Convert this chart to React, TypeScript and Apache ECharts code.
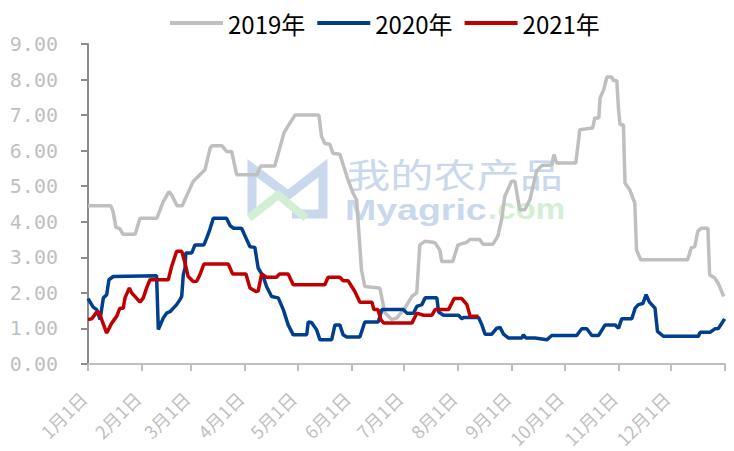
import React, { useEffect, useRef } from "react";
import * as echarts from "echarts";

const legendNames = ["2019年", "2020年", "2021年"];
const monthStartDays = [0, 31, 59, 90, 120, 151, 181, 212, 243, 273, 304, 334];
const tickDays = [0, 31, 59, 90, 120, 151, 181, 212, 243, 273, 304, 334, 365];
const monthLabels = ["1月1日", "2月1日", "3月1日", "4月1日", "5月1日", "6月1日", "7月1日", "8月1日", "9月1日", "10月1日", "11月1日", "12月1日"];

// [day of year, value]
const s2019: [number, number][] = [
  [0, 4.45], [13, 4.45], [14.3, 4.3], [16, 3.85], [18.3, 3.8], [20, 3.65], [27, 3.65], [29.8, 4.1], [39.5, 4.1],
  [43, 4.55], [46.4, 4.85], [48, 4.75], [51, 4.45], [54, 4.45], [60.2, 5.13], [64.1, 5.32], [67, 5.46], [70, 6.07],
  [71, 6.14], [76.7, 6.14], [79.4, 5.98], [82.3, 5.98], [85.2, 5.32], [96.8, 5.32], [99, 5.57], [107, 5.57],
  [112.3, 6.5], [115.1, 6.73], [118.6, 7.0], [132.3, 7.0], [133.8, 6.4], [135.7, 6.2], [138.6, 6.18], [140.3, 5.93],
  [144.3, 5.9], [149, 5.18], [151.8, 4.81], [153.9, 4.62], [156.7, 2.65], [158.6, 2.18], [167.2, 2.14], [170.1, 1.44],
  [174.1, 1.25], [177, 1.3], [181.6, 1.57], [185.6, 1.9], [188.4, 2.0], [190.1, 3.35], [193, 3.45], [198.7, 3.42],
  [201.6, 3.21], [202.7, 2.88], [209, 2.88], [212, 3.35], [217, 3.42], [218.8, 3.5], [224.5, 3.5], [226.2, 3.37],
  [232, 3.37], [234.8, 3.59], [237, 4.06], [238.8, 4.71], [242.7, 5.14], [244.6, 5.14], [247.4, 4.34], [250.3, 4.34],
  [253.2, 4.62], [257, 5.42], [260, 5.58], [265.7, 5.6], [267, 5.89], [268.5, 5.65], [279.5, 5.65], [281.8, 6.59],
  [289.2, 6.64], [290.4, 6.92], [292.7, 6.92], [293.4, 7.48], [295.5, 7.71], [297.3, 8.07], [300.1, 8.07],
  [301.1, 7.97], [303, 7.97], [304, 7.15], [304.9, 6.73], [306.8, 6.73], [307.7, 5.09], [310.4, 4.9], [313.3, 4.53],
  [314.3, 3.21], [316.7, 2.93], [343.6, 2.93], [345.6, 3.26], [347.7, 3.31], [349.4, 3.73], [351.3, 3.82],
  [355.2, 3.82], [356.2, 2.51], [359.1, 2.42], [361, 2.28], [364.3, 1.9],
];

const s2020: [number, number][] = [
  [0, 1.84], [3, 1.6], [5, 1.53], [6.9, 1.25], [8.8, 1.86], [10.7, 1.95], [12, 2.37], [14.5, 2.46], [39.3, 2.48],
  [40.3, 0.97], [43.1, 1.29], [45, 1.43], [47, 1.47], [48.9, 1.57], [50.8, 1.67], [52.7, 1.81], [53.7, 1.9],
  [54.6, 2.51], [55.6, 2.7], [56, 3.12], [59.4, 3.12], [61.3, 3.35], [66.4, 3.35], [68, 3.54], [69.8, 3.78],
  [71.8, 4.1], [79.4, 4.1], [81.3, 3.9], [83.2, 3.82], [88, 3.82], [90.9, 3.5], [92.8, 3.3], [95.6, 3.28],
  [97.5, 2.7], [100.4, 2.46], [102.3, 2.18], [105.2, 1.9], [109, 1.86], [111.9, 1.53], [114.7, 1.1], [117.6, 0.82],
  [125.3, 0.82], [126.2, 1.18], [128.1, 1.17], [131, 0.96], [132.9, 0.68], [139.6, 0.68], [141.5, 1.1],
  [144.3, 1.1], [146.2, 0.82], [148.2, 0.76], [155.8, 0.76], [158.6, 1.18], [166.3, 1.18], [168.4, 1.53],
  [180.8, 1.53], [182.7, 1.43], [186.5, 1.43], [188.4, 1.62], [191.3, 1.67], [193.2, 1.86], [199.9, 1.86],
  [200.9, 1.46], [203.7, 1.37], [212.3, 1.37], [214.2, 1.27], [215.2, 1.31], [223.8, 1.31], [225.7, 1.1],
  [227.5, 0.84], [231.4, 0.84], [234.2, 1.01], [236.1, 1.03], [238.1, 0.84], [241, 0.73], [248.6, 0.73],
  [249.5, 0.82], [251, 0.73], [256.2, 0.73], [262.9, 0.68], [265.7, 0.8], [280, 0.8], [282.9, 0.99], [285.8, 0.99],
  [288.7, 0.8], [292.5, 0.8], [296.3, 1.1], [302, 1.1], [304, 1.01], [305.8, 1.27], [311.6, 1.27], [313.5, 1.57],
  [315.4, 1.67], [317.9, 1.7], [319.8, 1.95], [321.7, 1.74], [324.9, 1.57], [326.3, 0.92], [329.7, 0.78],
  [349.8, 0.78], [350.7, 0.89], [356.4, 0.89], [359.2, 0.99], [361.2, 1.0], [364.8, 1.27],
];

const s2021: [number, number][] = [
  [0, 1.25], [2.1, 1.27], [5, 1.46], [6.3, 1.45], [10.7, 0.87], [13.6, 1.15], [16.4, 1.34], [18.3, 1.57],
  [20.2, 1.57], [21.2, 1.86], [23.7, 2.14], [25, 2.0], [26.9, 1.9], [29.8, 1.74], [31.7, 1.86], [33.6, 2.14],
  [35.5, 2.37], [46, 2.37], [47.9, 2.74], [50.8, 3.17], [53.7, 3.17], [55.6, 2.84], [57.4, 2.46], [60.3, 2.32],
  [62.3, 2.33], [64.1, 2.51], [66.4, 2.81], [80.4, 2.81], [82.9, 2.53], [90.5, 2.53], [92.8, 2.14], [96.2, 2.04],
  [97.5, 2.05], [99.5, 2.53], [102.3, 2.44], [108, 2.44], [109.6, 2.53], [114.7, 2.53], [117.6, 2.23],
  [135.7, 2.23], [137.6, 2.44], [144.3, 2.44], [146.2, 2.34], [149.1, 2.34], [152.9, 2.04], [155.8, 1.74],
  [162.7, 1.74], [163.8, 1.53], [166.1, 1.53], [167.8, 1.25], [169.5, 1.15], [185.6, 1.15], [188.4, 1.43],
  [192.3, 1.37], [197, 1.37], [198.9, 1.53], [206.6, 1.53], [209.8, 1.84], [214.2, 1.84], [217.1, 1.67],
  [219, 1.34], [223.8, 1.34],
];

const seriesColors = ["#BFBFBF", "#003F8E", "#C00000"];

export default function App() {
  const ref = useRef<HTMLDivElement>(null);
  useEffect(() => {
    document.body.style.margin = "0";
    const chart = echarts.init(ref.current!, null, { renderer: "svg" });
    const wmBlue = "#C9D8EC";
    const wmGreen = "#D2EFD5";
    chart.setOption({
      animation: false,
      backgroundColor: "#FFFFFF",
      graphic: [
        {
          type: "polyline",
          silent: true,
          z: -1,
          shape: { points: [[252, 214], [252, 168], [288, 195], [323, 168], [323, 214], [292, 214]] },
          style: { stroke: wmBlue, lineWidth: 9, fill: "none", lineJoin: "miter" },
        },
        {
          type: "polyline",
          silent: true,
          z: -1,
          shape: { points: [[249, 218], [278, 195], [306, 218]] },
          style: { stroke: wmGreen, lineWidth: 8, fill: "none" },
        },
        {
          type: "text",
          silent: true,
          z: -1,
          x: 347,
          y: 156,
          scaleX: 1.27,
          style: { text: "我的农产品", fill: wmBlue, font: "34px 'Noto Sans CJK SC'", lineHeight: 34 },
        },
        {
          type: "text",
          silent: true,
          z: -1,
          x: 345,
          y: 194,
          scaleX: 1.25,
          style: { text: "Myagric", fill: wmBlue, font: "bold 30px 'Liberation Sans'", lineHeight: 30 },
        },
        {
          type: "text",
          silent: true,
          z: -1,
          x: 488,
          y: 194,
          scaleX: 1.1,
          style: { text: ".com", fill: wmGreen, font: "bold 30px 'Liberation Sans'", lineHeight: 30 },
        },
      ],
      legend: {
        data: legendNames,
        left: 165,
        top: 6,
        icon: "rect",
        itemWidth: 53,
        itemHeight: 4,
        itemGap: 12,
        textStyle: { color: "#000000", fontSize: 24, fontFamily: "'Noto Sans CJK SC'" },
      },
      grid: { left: 88, right: 9, top: 44, bottom: 87, outerBoundsMode: "none" },
      xAxis: {
        type: "value",
        min: 0,
        max: 365,
        axisLine: { show: true, lineStyle: { color: "#BFBFBF", width: 2 } },
        axisTick: { show: true, length: 7, customValues: tickDays, lineStyle: { color: "#BFBFBF", width: 2 } },
        splitLine: { show: false },
        axisLabel: {
          customValues: monthStartDays,
          rotate: 45,
          margin: 26,
          padding: [0, 7, 0, 0],
          lineHeight: 18,
          color: "#BFBFBF",
          fontSize: 18,
          fontFamily: "'Noto Sans CJK SC'",
          formatter: (v: number) => {
            const i = monthStartDays.indexOf(Math.round(v));
            return i >= 0 ? monthLabels[i] : "";
          },
        },
      },
      yAxis: {
        type: "value",
        min: 0,
        max: 9,
        interval: 1,
        axisLine: { show: true, lineStyle: { color: "#8C8C8C", width: 2 } },
        axisTick: { show: true, length: 7, lineStyle: { color: "#8C8C8C", width: 2 } },
        splitLine: { show: false },
        axisLabel: {
          margin: 30,
          color: "#BFBFBF",
          fontSize: 20,
          fontFamily: "'DejaVu Sans Mono'",
          formatter: (v: number) => v.toFixed(2),
        },
      },
      series: [s2019, s2020, s2021].map((d, i) => ({
        name: legendNames[i],
        type: "line",
        data: d,
        showSymbol: false,
        symbol: "none",
        color: seriesColors[i],
        lineStyle: { color: seriesColors[i], width: 3.5 },
      })),
    });
    return () => chart.dispose();
  }, []);
  return <div ref={ref} style={{ width: 734, height: 451 }} />;
}
